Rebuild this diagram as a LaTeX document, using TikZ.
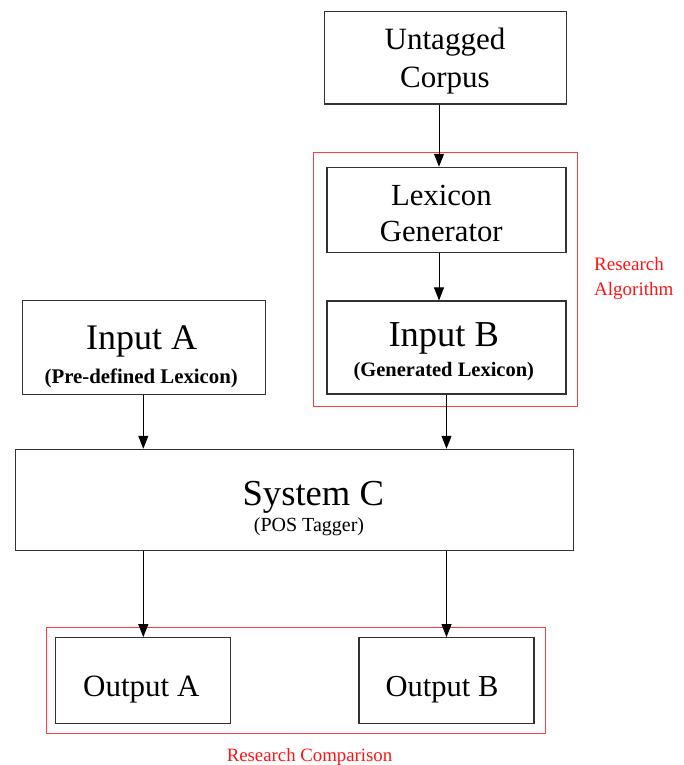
\documentclass[tikz,border=0pt]{standalone}
\usepackage{fontspec}
\setmainfont{Liberation Serif}
\usetikzlibrary{arrows.meta}
\definecolor{boxred}{RGB}{255,60,60}
\definecolor{txtred}{RGB}{255,20,20}
\definecolor{boxline}{RGB}{50,50,50}
\newcommand{\fsz}[1]{\fontsize{#1}{#1}\selectfont}
\tikzset{
  box/.style={draw=boxline, line width=1.1pt, rectangle, inner sep=0pt, minimum width=#1},
  grp/.style={draw=boxred, line width=1pt, rectangle, inner sep=0pt},
  txt/.style={anchor=base, inner sep=0pt},
  redtxt/.style={anchor=base west, inner sep=0pt, text=txtred, font=\fsz{19}},
  arr/.style={draw=black, line width=1pt, -{Triangle[width=10pt,length=13pt]}},
}
\begin{document}
\begin{tikzpicture}[x=1pt,y=-1pt]
\useasboundingbox (0,0) rectangle (684,765);
% boxes
\node[box=242pt, minimum height=92.3pt] (corpus) at (445.3,57.85) {};
\node[box=239pt, minimum height=85pt] (lexgen) at (446.5,209.8) {};
\node[box=239pt, minimum height=93pt] (inB) at (446.5,347.5) {};
\node[box=242.6pt, minimum height=93.6pt] (inA) at (144,347.5) {};
\node[box=558.3pt, minimum height=101.2pt] (sysC) at (294.2,499.9) {};
\node[box=175pt, minimum height=85.6pt] (outA) at (142.8,680.5) {};
\node[box=175pt, minimum height=85.6pt] (outB) at (446.5,680.5) {};
% group frames
\node[grp, minimum width=264pt, minimum height=253.3pt] (algo) at (445.3,279.35) {};
\node[grp, minimum width=498.7pt, minimum height=106pt] (comp) at (295.65,680.7) {};
% texts
\node[txt, font=\fsz{31}] (corpusA) at (445,49.3) {Untagged};
\node[txt, font=\fsz{31}] (corpusB) at (445,87.3) {Corpus};
\node[txt, font=\fsz{30.7}] (lexA) at (441.3,205) {Lexicon};
\node[txt, font=\fsz{30.7}] (lexB) at (441.3,241.7) {Generator};
\node[txt, font=\fsz{36.5}] (inBa) at (443.8,346.7) {Input B};
\node[txt, font=\fsz{20.5}\bfseries] (inBb) at (443.8,376.7) {(Generated Lexicon)};
\node[txt, font=\fsz{36}] (inAa) at (141.7,349.3) {Input A};
\node[txt, font=\fsz{20.8}\bfseries] (inAb) at (141.3,383.3) {(Pre-defined Lexicon)};
\node[txt, font=\fsz{36.6}] (sysCa) at (313.3,505) {System C};
\node[txt, font=\fsz{20}] (sysCb) at (309,531.7) {(POS Tagger)};
\node[txt, font=\fsz{31}] (outAt) at (141.3,696.7) {Output A};
\node[txt, font=\fsz{30.5}] (outBt) at (442,696.7) {Output B};
\node[redtxt] (ralgA) at (594,270.7) {Research};
\node[redtxt] (ralgB) at (594,295) {Algorithm};
\node[txt, text=txtred, font=\fsz{18.8}] (rcomp) at (309.5,761.7) {Research Comparison};
% connectors
\coordinate (ax1) at (439,0);
\coordinate (ax2) at (143.3,0);
\draw[arr] (corpus.south -| ax1) -- (lexgen.north -| ax1);
\draw[arr] (lexgen.south -| ax1) -- (inB.north -| ax1);
\draw[arr] (inA.south -| ax2) -- (sysC.north -| ax2);
\draw[arr] (inB.south) -- (sysC.north -| inB);
\draw[arr] (sysC.south -| ax2) -- (outA.north -| ax2);
\draw[arr] (sysC.south -| outB) -- (outB.north);
\end{tikzpicture}
\end{document}
